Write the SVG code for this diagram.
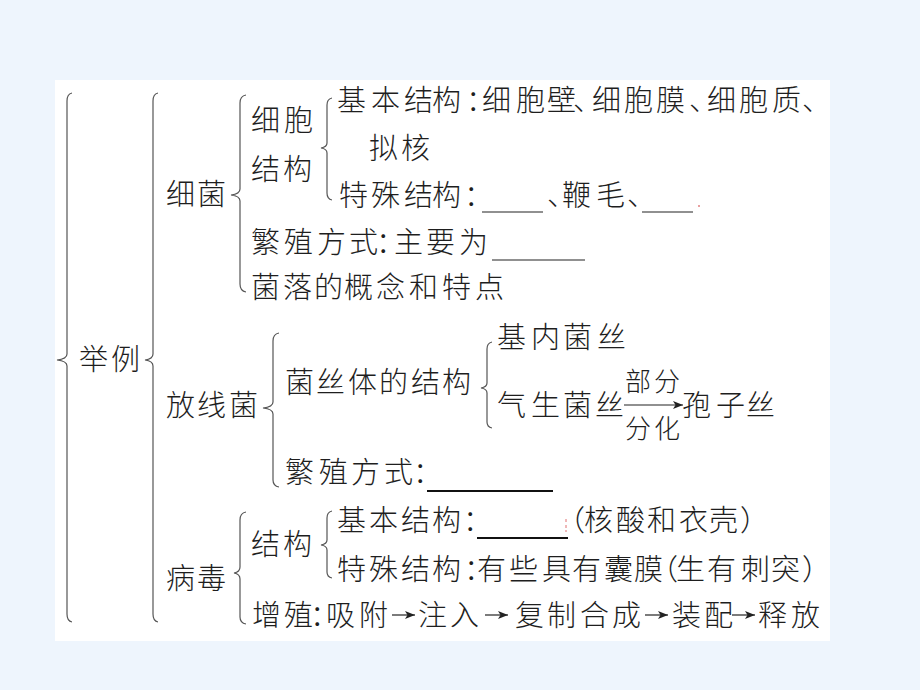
<svg xmlns="http://www.w3.org/2000/svg" width="920" height="690" viewBox="0 0 920 690">
<style>
.t{font-family:"Noto Sans CJK SC","Noto Sans CJK JP",sans-serif;font-size:29px;font-weight:300;fill:#1e1e1e}
.s{font-size:26px}
.br{fill:none;stroke:#555;stroke-width:1.2}
.ul{stroke:#222;stroke-width:1.2}
.ulb{stroke:#111;stroke-width:2.2}
.ar{stroke:#222;stroke-width:1.2;fill:none}
</style>
<defs>
<marker id="ah" viewBox="0 0 10 8" refX="10" refY="4" markerWidth="10" markerHeight="8" markerUnits="userSpaceOnUse" orient="auto">
<path d="M0,0 L10,4 L0,8 L2.5,4 Z" fill="#222"/>
</marker>
</defs>
<rect width="920" height="690" fill="#eef5fd"/>
<rect x="55" y="80" width="775" height="561" fill="#ffffff"/>

<g id="braces">
<path class="br" d="M72,93 Q67,94 67,101 L67,354 Q67,359 57,360 Q67,361 67,366 L67,614 Q67,621 72,622"/>
<path class="br" d="M158,93 Q153,94 153,101 L153,354 Q153,359 145,360 Q153,361 153,366 L153,614 Q153,621 158,622"/>
<path class="br" d="M246,95 Q240,96 240,103 L240,189 Q240,194 231,195 Q240,196 240,201 L240,284 Q240,291 246,292"/>
<path class="br" d="M332,98 Q327,99 327,105 L327,143 Q327,147 321,148 Q327,149 327,153 L327,193 Q327,199 332,200"/>
<path class="br" d="M279,333 Q273,334 273,341 L273,402 Q273,407 263,408 Q273,409 273,414 L273,480 Q273,486 279,487"/>
<path class="br" d="M492,342 Q487,343 487,349 L487,383 Q487,387 481,388 Q487,389 487,393 L487,422 Q487,427 492,428"/>
<path class="br" d="M246,512 Q240,513 240,520 L240,567 Q240,572 234,573 Q240,574 240,579 L240,617 Q240,623 246,624"/>
<path class="br" d="M332,511 Q327,512 327,518 L327,540 Q327,544 321,545 Q327,546 327,550 L327,572 Q327,577 332,578"/>
</g>

<g id="connectors">
<line class="ar" x1="624" y1="405" x2="683" y2="405" marker-end="url(#ah)"/>
<line class="ar" x1="392" y1="615" x2="415" y2="615" marker-end="url(#ah)"/>
<line class="ar" x1="485" y1="615" x2="508" y2="615" marker-end="url(#ah)"/>
<line class="ar" x1="645" y1="615" x2="668" y2="615" marker-end="url(#ah)"/>
<line class="ar" x1="732" y1="615" x2="755" y2="615" marker-end="url(#ah)"/>
</g>

<g id="n-juli"><text class="t" x="79 111" y="370">举例</text></g>

<g id="n-xijun"><text class="t" x="166 197" y="205">细菌</text></g>
<g id="n-xibaojiegou">
<text class="t" x="251 284" y="131">细胞</text>
<text class="t" x="251 283" y="180">结构</text>
</g>
<g id="n-jiben">
<text class="t" x="337 371 404 432 466 482 516 547 573 592 624 656 689 707 739 772 802" y="111">基本结构：细胞壁、细胞膜、细胞质、</text>
<text class="t" x="369 401" y="159">拟核</text>
</g>
<g id="n-teshu">
<text class="t" x="339 371 404 432 464" y="206">特殊结构：</text>
<line class="ul" x1="482" y1="212" x2="543" y2="212"/>
<text class="t" x="547 562 596 627" y="206">、鞭毛、</text>
<line class="ul" x1="642" y1="212" x2="693" y2="212"/>
<circle cx="699" cy="206" r="1" fill="#e08080"/>
</g>
<g id="n-fanzhi1">
<text class="t" x="251 284 317 349 376 394 426 459" y="253">繁殖方式：主要为</text>
<line class="ul" x1="492" y1="260" x2="585" y2="260"/>
</g>
<g id="n-junluo"><text class="t" x="251 283 314 344 376 409 442 475" y="298">菌落的概念和特点</text></g>

<g id="n-fangxianjun"><text class="t" x="166 197 229" y="416">放线菌</text></g>
<g id="n-junsiti"><text class="t" x="285 316 348 379 411 442" y="393">菌丝体的结构</text></g>
<g id="n-jinei"><text class="t" x="497 531 563 597" y="348">基内菌丝</text></g>
<g id="n-qisheng"><text class="t" x="497 531 563 595" y="416">气生菌丝</text></g>
<g id="n-bufen"><text class="t s" x="625 654" y="391">部分</text><text class="t s" x="625 654" y="438">分化</text></g>
<g id="n-baozisi"><text class="t" x="682 716 746" y="416">孢子丝</text></g>
<g id="n-fanzhi2">
<text class="t" x="285 319 351 384 413" y="483">繁殖方式：</text>
<line class="ulb" x1="427" y1="491" x2="553" y2="491"/>
</g>

<g id="n-bingdu"><text class="t" x="166 197" y="589">病毒</text></g>
<g id="n-jiegou2"><text class="t" x="251 283" y="555">结构</text></g>
<g id="n-jiben2">
<text class="t" x="337 369 401 432 463" y="531">基本结构：</text>
<line class="ulb" x1="477" y1="538" x2="568" y2="538"/>
<path d="M566,519 v3 M566,525 v3 M566,530 v2" stroke="#e07070" stroke-width="1"/>
<text class="t" x="556 584 616 647 679 709 740" y="531">（核酸和衣壳）</text>
</g>
<g id="n-teshu2"><text class="t" x="337 369 401 432 464 477 509 542 572 604 634 649 676 707 741 771 802" y="580">特殊结构：有些具有囊膜（生有刺突）</text></g>
<g id="n-zengzhi">
<text class="t" x="252 284 310 326 359" y="626">增殖：吸附</text>
<text class="t" x="418 450" y="626">注入</text>
<text class="t" x="515 547 580 612" y="626">复制合成</text>
<text class="t" x="672 704" y="626">装配</text>
<text class="t" x="758 791" y="626">释放</text>
</g>
</svg>
